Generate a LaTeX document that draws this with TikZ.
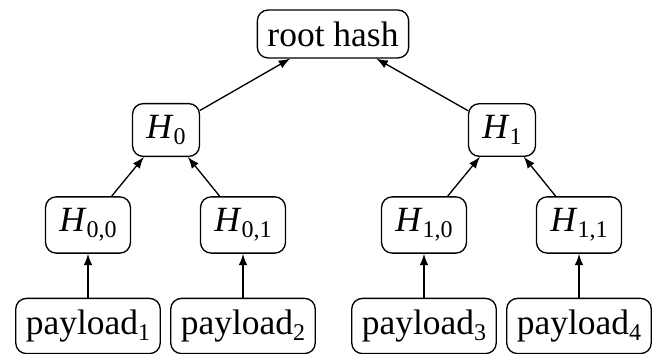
\documentclass[tikz,border=0pt]{standalone}
\usepackage{fontspec}
\setmainfont{Liberation Serif}
\usetikzlibrary{arrows}
\newcommand{\lowsub}[1]{\raisebox{-2.4pt}{\fontsize{9}{10}\selectfont #1}}

\begin{document}
\begin{tikzpicture}[line cap=round,line join=round,>=latex,x=0.375pt,y=0.375pt,
	hashbox/.style={draw,line width=0.5pt,rounded corners=4pt,inner xsep=3.8pt,inner ysep=4.3pt,font=\fontsize{13.3}{15}\selectfont},
	hnode/.style={hashbox,inner xsep=5.2pt}]
	\useasboundingbox (0,0) rectangle (658,354);
	\node[hashbox] (root) at (333,320) {root hash};
	\node[hnode] (h0) at (166,224) {\textit{H}\lowsub{0}};
	\node[hnode] (h1) at (502,224) {\textit{H}\lowsub{1}};
	\node[hnode] (h00) at (88,129) {\textit{H}\lowsub{0,0}};
	\node[hnode] (h01) at (243,129) {\textit{H}\lowsub{0,1}};
	\node[hnode] (h10) at (424,129) {\textit{H}\lowsub{1,0}};
	\node[hnode] (h11) at (579,129) {\textit{H}\lowsub{1,1}};
	\node[hashbox] (p1) at (88,28) {payload\lowsub{1}};
	\node[hashbox] (p2) at (243,28) {payload\lowsub{2}};
	\node[hashbox] (p3) at (424,28) {payload\lowsub{3}};
	\node[hashbox] (p4) at (579,28) {payload\lowsub{4}};
	\draw [->,line width=0.5pt] (h0) -- (root);
	\draw [->,line width=0.5pt] (h1) -- (root);
	\draw [->,line width=0.5pt] (h00) -- (h0);
	\draw [->,line width=0.5pt] (h01) -- (h0);
	\draw [->,line width=0.5pt] (h10) -- (h1);
	\draw [->,line width=0.5pt] (h11) -- (h1);
	\draw [->,line width=0.5pt] (p1) -- (h00);
	\draw [->,line width=0.5pt] (p2) -- (h01);
	\draw [->,line width=0.5pt] (p3) -- (h10);
	\draw [->,line width=0.5pt] (p4) -- (h11);
\end{tikzpicture}
\end{document}
